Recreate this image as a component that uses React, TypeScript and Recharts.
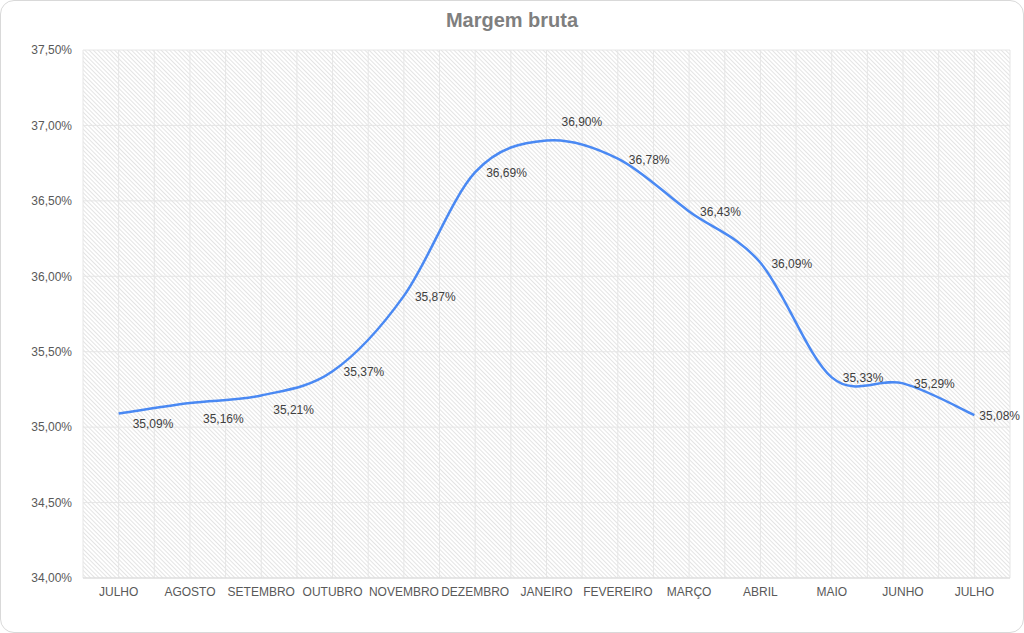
import { CartesianGrid, LabelList, Line, LineChart, XAxis, YAxis } from 'recharts';

// Meses e margem bruta (%).
const MONTHS = [
  'JULHO', 'AGOSTO', 'SETEMBRO', 'OUTUBRO', 'NOVEMBRO', 'DEZEMBRO', 'JANEIRO',
  'FEVEREIRO', 'MARÇO', 'ABRIL', 'MAIO', 'JUNHO', 'JULHO',
];
const MARGIN_PCT = [
  35.09, 35.16, 35.21, 35.37, 35.87, 36.69, 36.9,
  36.78, 36.43, 36.09, 35.33, 35.29, 35.08,
];
const Y_TICKS = [34, 34.5, 35, 35.5, 36, 36.5, 37, 37.5];

const data = MONTHS.map((m, i) => ({ key: `${m}-${i}`, month: m, value: MARGIN_PCT[i] }));

const fmtPct = (v: number) => `${v.toFixed(2).replace('.', ',')}%`;

// deslocamento dos rótulos como no Excel (alguns ficam abaixo / acima)
const LABEL_SHIFT: Record<number, [number, number]> = {
  0: [14, 10],
  1: [13, 16],
  2: [12, 15],
  6: [15, -19],
  12: [5, 1],
};

// curva suavizada estilo Excel (Catmull-Rom, tensão 1/6)
function excelSmooth(context: any) {
  let pts: [number, number][] = [];
  return {
    areaStart() {},
    areaEnd() {},
    lineStart() {
      pts = [];
    },
    point(x: number, y: number) {
      pts.push([+x, +y]);
    },
    lineEnd() {
      const n = pts.length;
      if (!n) return;
      context.moveTo(pts[0][0], pts[0][1]);
      for (let i = 0; i < n - 1; i++) {
        const p0 = pts[Math.max(i - 1, 0)];
        const p1 = pts[i];
        const p2 = pts[i + 1];
        const p3 = pts[Math.min(i + 2, n - 1)];
        context.bezierCurveTo(
          p1[0] + (p2[0] - p0[0]) / 6,
          p1[1] + (p2[1] - p0[1]) / 6,
          p2[0] - (p3[0] - p1[0]) / 6,
          p2[1] - (p3[1] - p1[1]) / 6,
          p2[0],
          p2[1],
        );
      }
    },
  };
}

function ValueLabel(props: any) {
  const { x, y, value, index } = props;
  const [dx, dy] = LABEL_SHIFT[index] ?? [11, 1];
  return (
    <text
      x={x + dx}
      y={y + dy}
      dominantBaseline="central"
      fontSize={12}
      fill="#404040"
      fontFamily="'Liberation Sans', Arial, sans-serif"
    >
      {fmtPct(Number(value))}
    </text>
  );
}

export default function App() {
  return (
    <div style={{ position: 'absolute', left: 0, top: 0, width: 1024, height: 633, background: '#fff' }}>
      <div
        style={{
          position: 'absolute',
          left: 0,
          top: 0,
          width: 1022,
          height: 631,
          border: '1px solid #d9d9d9',
          borderRadius: 14,
        }}
      />
      <div
        style={{
          position: 'absolute',
          left: 0,
          top: 9,
          width: 1024,
          textAlign: 'center',
          fontFamily: "'Liberation Sans', Arial, sans-serif",
          fontWeight: 'bold',
          fontSize: 20,
          color: '#7f7f7f',
        }}
      >
        Margem bruta
      </div>
      <div style={{ position: 'absolute', left: 0, top: 0 }}>
        <LineChart
          width={1024}
          height={633}
          data={data}
          margin={{ top: 50, right: 14, left: 0, bottom: 25 }}
          style={{ fontFamily: "'Liberation Sans', Arial, sans-serif" }}
        >
          <defs>
            <pattern id="hatch" width="3" height="3" patternUnits="userSpaceOnUse" patternTransform="rotate(-45)">
              <rect width="3" height="3" fill="#ffffff" />
              <line x1="0.5" y1="0" x2="0.5" y2="3" stroke="#e4e4e4" strokeWidth="1" />
            </pattern>
          </defs>
          <CartesianGrid
            fill="url(#hatch)"
            fillOpacity={1}
            stroke="#e6e6e6"
            verticalCoordinatesGenerator={({ offset }: any) =>
              Array.from({ length: MONTHS.length * 2 + 1 }, (_, i) => offset.left + (i * offset.width) / (MONTHS.length * 2))
            }
          />
          <XAxis
            dataKey="key"
            scale="band"
            tickFormatter={(_: string, i: number) => MONTHS[i]}
            height={30}
            tickLine={false}
            tickSize={0}
            tickMargin={9}
            axisLine={{ stroke: '#d9d9d9' }}
            interval={0}
            tick={{ fontSize: 12, fill: '#595959' }}
          />
          <YAxis
            domain={[34, 37.5]}
            ticks={Y_TICKS}
            width={83}
            tickLine={false}
            axisLine={false}
            tickSize={0}
            tickMargin={11}
            tickFormatter={(v: number) => fmtPct(v)}
            tick={{ fontSize: 12, fill: '#595959' }}
          />
          <Line
            dataKey="value"
            type={excelSmooth as any}
            stroke="#4a89f3"
            strokeWidth={2.5}
            dot={false}
            activeDot={false}
            isAnimationActive={false}
          >
            <LabelList dataKey="value" content={ValueLabel} />
          </Line>
        </LineChart>
      </div>
    </div>
  );
}
